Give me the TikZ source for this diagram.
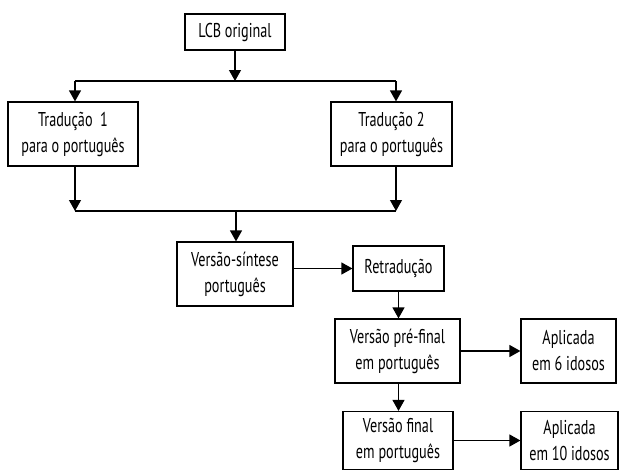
\documentclass[tikz,border=0pt]{standalone}
\usepackage{fontspec}
\setmainfont{PT Sans}[FakeStretch=0.71]
\usetikzlibrary{arrows.meta}
\begin{document}
\begin{tikzpicture}[x=1pt,y=-1pt,
  box/.style={draw,line width=1.2pt,align=center,inner sep=0pt,font=\fontsize{20}{26}\selectfont},
  ln/.style={line width=1.2pt},
  arr/.style={line width=1.2pt,-{Triangle[length=11pt,width=12pt]}}]
\useasboundingbox (0,0) rectangle (621,471);
\node[box,minimum width=100pt,minimum height=36pt] (lcb) at (235,32) {LCB original};
\node[box,minimum width=130pt,minimum height=64pt] (t1) at (73,134) {Tradução\ \ 1\\para o português};
\node[box,minimum width=121pt,minimum height=64pt] (t2) at (391.5,134) {Tradução 2\\para o português};
\node[box,minimum width=116pt,minimum height=64pt] (sint) at (235,274) {Versão-síntese\\português};
\node[box,minimum width=91pt,minimum height=45pt] (retr) at (398.5,268.5) {Retradução};
\node[box,minimum width=125pt,minimum height=64pt] (pre) at (397.5,351) {Versão pré-final\\em português};
\node[box,minimum width=95pt,minimum height=64pt] (ap6) at (568.5,351) {Aplicada\\em 6 idosos};
\node[box,minimum width=110pt,minimum height=58pt] (fin) at (398,440.5) {Versão final\\em português};
\node[box,minimum width=97pt,minimum height=58pt] (ap10) at (569.5,440.5) {Aplicada\\em 10 idosos};
\coordinate (a1) at (75,81);
\coordinate (a2) at (396,81);
\coordinate (b1) at (75,211);
\coordinate (b2) at (396,211);
\coordinate (bm) at (236,211);
\draw[arr] (lcb.south) -- (lcb.south |- a1);
\draw[ln] (a1) -- (a2);
\draw[arr] (a1) -- (a1 |- t1.north);
\draw[arr] (a2) -- (a2 |- t2.north);
\draw[arr] (b1 |- t1.south) -- (b1);
\draw[arr] (b2 |- t2.south) -- (b2);
\draw[ln] (b1) -- (b2);
\draw[arr] (bm) -- (bm |- sint.north);
\draw[arr] (sint.east |- retr.west) -- (retr.west);
\draw[arr] (retr.south) -- (retr.south |- pre.north);
\draw[arr] (pre.east) -- (ap6.west);
\draw[arr] (retr.south |- pre.south) -- (retr.south |- fin.north);
\draw[arr] (fin.east) -- (ap10.west);
\end{tikzpicture}
\end{document}
